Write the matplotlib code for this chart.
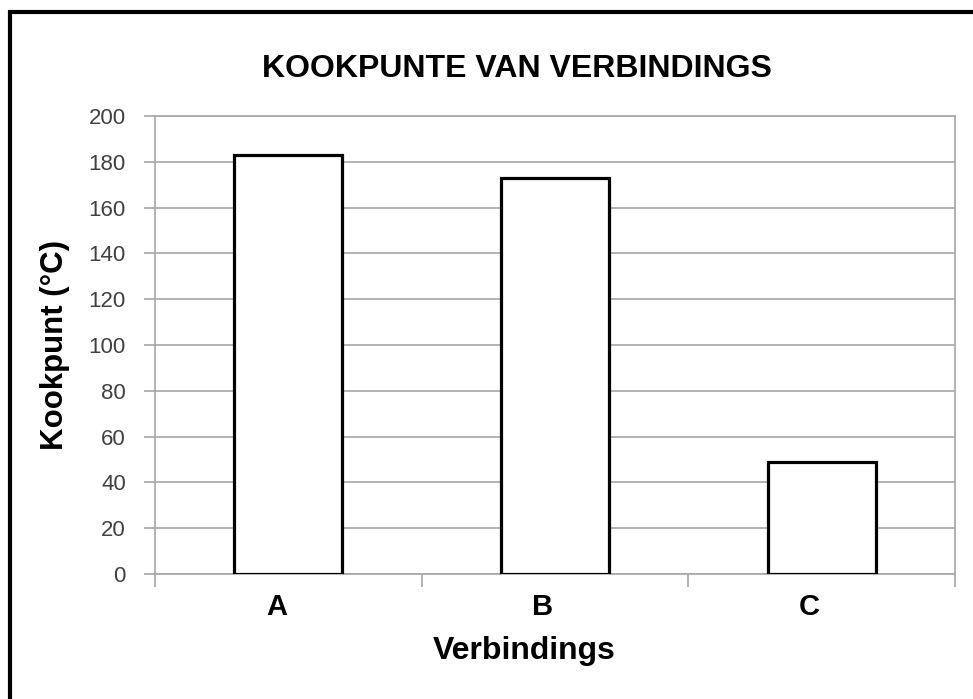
import matplotlib.pyplot as plt
import matplotlib.transforms as mtransforms
from matplotlib.lines import Line2D

# boiling points
compounds = ['A', 'B', 'C']
boiling_points = [183, 173, 49]
y_ticks = [0, 20, 40, 60, 80, 100, 120, 140, 160, 180, 200]

plt.rcParams['font.family'] = ['Liberation Sans', 'DejaVu Sans']

fig = plt.figure(figsize=(9.73, 6.99), dpi=100)
ax = fig.add_axes([155/973, 1 - 574/699, 800/973, 458/699])

x = list(range(len(compounds)))
ax.bar(x, boiling_points, width=0.405, color='white', edgecolor='black',
       linewidth=2.3, zorder=3)

ax.set_xlim(-0.5, len(compounds) - 0.5)
ax.set_ylim(0, 200)
ax.set_yticks(y_ticks)
ax.yaxis.grid(True, color='#a6a6a6', linewidth=1.2, zorder=0)
ax.set_axisbelow(True)

ax.set_xticks(x)
ax.set_xticklabels(compounds, fontsize=21, fontweight='bold')
ax.set_xticks([i - 0.5 for i in range(len(compounds) + 1)], minor=True)
ax.tick_params(axis='x', which='major', length=0, pad=14)
ax.tick_params(axis='x', which='minor', length=9, width=1.2, color='#a6a6a6')
ax.tick_params(axis='y', length=8, width=1.2, color='#a6a6a6',
               labelsize=16, labelcolor='#404040', pad=13)

# category labels sit a little left of the bar centres in the original
shift = mtransforms.ScaledTranslation(-12/100, 0, fig.dpi_scale_trans)
for lbl in ax.get_xticklabels():
    lbl.set_transform(lbl.get_transform() + shift)

for s in ax.spines.values():
    s.set_color('#a6a6a6')
    s.set_linewidth(1.2)

ax.set_xlabel('Verbindings', fontsize=23, fontweight='bold', va='center')
ax.xaxis.set_label_coords((524 - 155) / 800, (574 - 651) / 458)
ax.set_ylabel('Kookpunt (°C)', fontsize=22.5, fontweight='bold', va='center')
ax.yaxis.set_label_coords((55 - 155) / 800, 0.5)
fig.text(517/973, 1 - 69/699, 'KOOKPUNTE VAN VERBINDINGS', fontsize=23,
         fontweight='bold', ha='center', va='center')

# frame around the chart (only top and left edges are in view)
fig.add_artist(Line2D([8/973, 1], [1 - 12/699, 1 - 12/699], color='black',
                      linewidth=3, solid_capstyle='butt',
                      transform=fig.transFigure))
fig.add_artist(Line2D([10/973, 10/973], [0, 1 - 10/699], color='black',
                      linewidth=3, solid_capstyle='butt',
                      transform=fig.transFigure))

fig.savefig('out.png', dpi=100)
